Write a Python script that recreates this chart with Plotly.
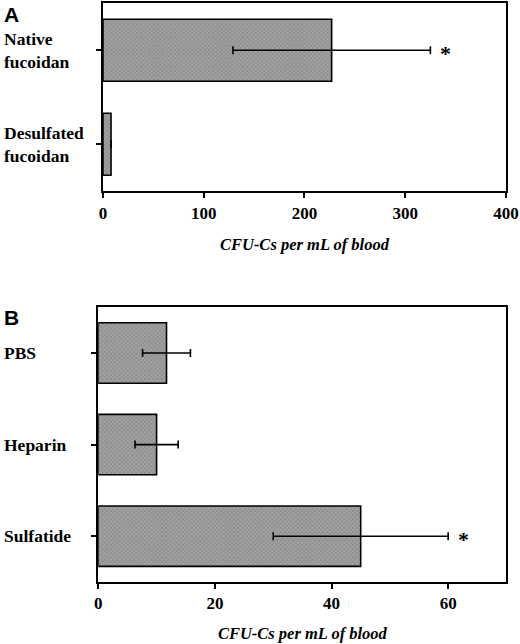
import plotly.graph_objects as go

# panel A
a_labels = ["Native<br>fucoidan", "Desulfated<br>fucoidan"]
a_values = [227, 8]
a_errors = [98, 0]
a_signif = [True, False]

# panel B
b_labels = ["PBS", "Heparin", "Sulfatide"]
b_values = [11.7, 10.0, 45.0]
b_errors = [4.1, 3.7, 15.0]
b_signif = [False, False, True]

x_title = "CFU-Cs per mL of blood"
a_ticks = [0, 100, 200, 300, 400]
b_ticks = [0, 20, 40, 60]

serif = "Liberation Serif"
bar_fill = "#939393"

fig = go.Figure()


def add_panel(labels, values, errors, xa, ya):
    fig.add_trace(go.Bar(
        y=list(range(len(labels))), x=values, orientation="h",
        width=0.66, xaxis=xa, yaxis=ya,
        marker=dict(color=bar_fill, line=dict(color="black", width=1.6),
                    pattern=dict(shape="x", size=3, solidity=0.35, fgcolor="#5a5a5a", bgcolor="#a2a2a2")),
        error_x=dict(type="data", array=[e if e > 0 else None for e in errors],
                     color="black", thickness=1.6, width=4),
        showlegend=False, hoverinfo="skip",
    ))


add_panel(a_labels, a_values, a_errors, "x", "y")
add_panel(b_labels, b_values, b_errors, "x2", "y2")

axis_common = dict(showline=True, linecolor="black", linewidth=2, mirror=True,
                   ticks="outside", ticklen=5, tickwidth=1.6, tickcolor="black",
                   showgrid=False, zeroline=False, automargin=False)
tick_font = dict(family=serif, size=17, color="black", weight="bold")
title_font = dict(family=serif, size=16.5, color="black", weight="bold", style="italic")

fig.update_layout(
    width=520, height=644, margin=dict(l=0, r=0, t=0, b=0),
    paper_bgcolor="white", plot_bgcolor="white",
    xaxis=dict(domain=[0.198, 0.973], range=[0, 400], tickvals=a_ticks, tickfont=tick_font,
               title=dict(text=x_title, font=title_font, standoff=17), anchor="y", **axis_common),
    yaxis=dict(domain=[0.703, 0.995], range=[1.5, -0.5], tickvals=list(range(len(a_labels))),
               showticklabels=False, anchor="x", **axis_common),
    xaxis2=dict(domain=[0.189, 0.974], range=[0, 70], tickvals=b_ticks, tickfont=tick_font,
                title=dict(text=x_title, font=title_font, standoff=15), anchor="y2", **axis_common),
    yaxis2=dict(domain=[0.0963, 0.523], range=[2.5, -0.5], tickvals=list(range(len(b_labels))),
                showticklabels=False, anchor="x2", **axis_common),
)

# category labels, left aligned at the figure edge
for labels, ya in [(a_labels, "y"), (b_labels, "y2")]:
    for i, lab in enumerate(labels):
        fig.add_annotation(text=lab, xref="paper", x=0.004, xanchor="left", align="left",
                           yref=ya, y=i, showarrow=False,
                           font=dict(family=serif, size=17.5, color="black", weight="bold"))

# significance stars
for values, errors, signif, xa, ya in [(a_values, a_errors, a_signif, "x", "y"),
                                        (b_values, b_errors, b_signif, "x2", "y2")]:
    for i, s in enumerate(signif):
        if s:
            fig.add_annotation(text="*", xref=xa, yref=ya, x=values[i] + errors[i], y=i,
                               xanchor="left", xshift=8, yshift=-3, showarrow=False,
                               font=dict(family=serif, size=22, color="black", weight="bold"))

# panel letters
for letter, yy in [("A", 0.999), ("B", 0.528)]:
    fig.add_annotation(text=letter, xref="paper", yref="paper", x=0.004, y=yy,
                       xanchor="left", yanchor="top", showarrow=False,
                       font=dict(family="Liberation Sans", size=21, color="black", weight="bold"))

fig.write_html("out.html", config={"displayModeBar": False},
               post_script="document.body.style.margin='0';")
